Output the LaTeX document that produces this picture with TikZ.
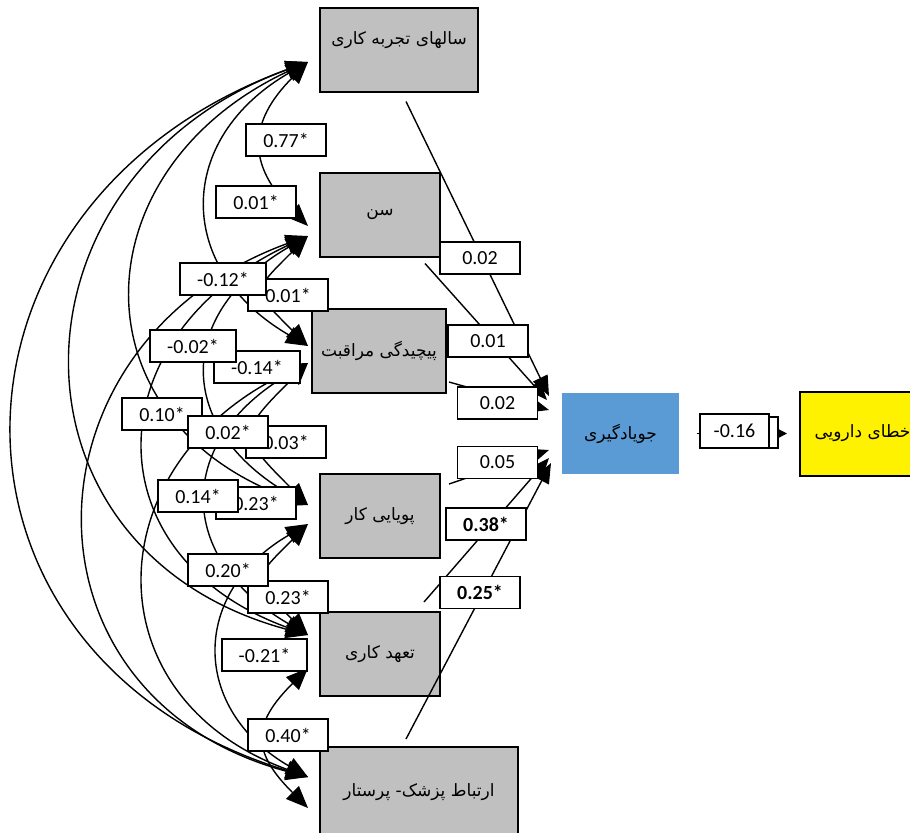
\documentclass[tikz,border=0pt]{standalone}
\usepackage{fontspec}
\setmainfont{Carlito}
\newfontfamily\fafont[Script=Arabic]{DejaVu Sans}
\TeXXeTstate=1
\usetikzlibrary{arrows.meta}
\definecolor{boxgray}{HTML}{C0C0C0}
\definecolor{learnblue}{HTML}{5B9BD5}
\tikzstyle{varbox} = [rectangle, minimum width=60pt, minimum height=42pt, draw=black, line width=1pt, fill=boxgray, font=\fafont\fontsize{8.5}{10}\selectfont]
\tikzstyle{coefbox} = [rectangle, minimum width=40pt, minimum height=16pt, inner sep=1pt, draw=black, line width=0.9pt, fill=white, font=\fontsize{10}{12}\selectfont]
\tikzstyle{covline} = [line width=0.7pt, {Triangle[length=11pt,width=9pt]}-{Triangle[length=11pt,width=9pt]}]
\tikzstyle{arrow} = [line width=0.7pt, -{Triangle[length=10pt,width=8pt]}]

\begin{document}
\begin{tikzpicture}[x=0.5pt, y=0.5pt, node distance=82.5pt]
\useasboundingbox (0,0) rectangle (910,-832);
\node (yrs) [varbox, minimum width=79pt, text height=7pt, text depth=12.5pt] at (399,-49.5) {\beginR سالهای تجربه کاری\endR};
\node (age) [varbox, below of=yrs, xshift=-9.5pt] {\beginR سن\endR};
\node (cmp) [varbox, minimum width=67pt, below of=age, xshift=-0.5pt, yshift=14.25pt] {\beginR پیچیدگی مراقبت\endR};
\node (dyn) [varbox, below of=cmp, xshift=0.5pt] {\beginR پویایی کار\endR};
\node (com) [varbox, below of=dyn, yshift=13.5pt] {\beginR تعهد کاری\endR};
\node (rel) [varbox, minimum width=99pt, minimum height=45pt, below of=com, xshift=19.5pt, yshift=13.5pt] {\beginR ارتباط پزشک- پرستار\endR};
\node (jv) [varbox, fill=learnblue, draw=learnblue, minimum width=57.5pt, minimum height=39.5pt] at (620.5,-433.5) {\beginR جویادگیری\endR};
\node (err) [varbox, fill=yellow, minimum width=62.5pt, right of=jv, xshift=38.5pt] {\beginR خطای دارویی\endR};

% ports on the left of the boxes
\coordinate (p1) at (308,-62);
\coordinate (p2u) at (308,-226);
\coordinate (p2d) at (308,-236);
\coordinate (p3u) at (308,-346);
\coordinate (p3d) at (308,-363);
\coordinate (p4u) at (308,-505);
\coordinate (p4d) at (308,-524);
\coordinate (p5u) at (308,-635);
\coordinate (p5d) at (308,-668);
\coordinate (p6u) at (308,-777);
\coordinate (p6d) at (308,-808);

% correlations
\draw [covline] (p1) to[out=225, in=135, distance=43pt] (p2u);
\draw [covline] (p1) to[out=210, in=150, distance=77pt] (p3u);
\draw [covline] (p1) to[out=205, in=160, distance=126pt] (p4u);
\draw [covline] (p1) to[out=200, in=165, distance=164pt] (p5u);
\draw [covline] (p1) to[out=200, in=163, distance=206pt] (p6u);
\draw [covline] (p2d) to[out=225, in=135, distance=40pt] (p3u);
\draw [covline] (p2d) to[out=210, in=150, distance=77pt] (p4u);
\draw [covline] (p2d) to[out=205, in=160, distance=117pt] (p5u);
\draw [covline] (p2d) to[out=200, in=165, distance=155pt] (p6u);
\draw [covline] (p3d) to[out=225, in=135, distance=50pt] (p4u);
\draw [covline] (p3d) to[out=210, in=150, distance=77pt] (p5u);
\draw [covline] (p3d) to[out=205, in=160, distance=117pt] (p6u);
\draw [covline] (p4d) to[out=225, in=135, distance=40pt] (p5u);
\draw [covline] (p4d) to[out=210, in=150, distance=68pt] (p6u);
\draw [covline] (p5d) to[out=225, in=135, distance=40pt] (p6d);

% paths to jv
\draw [arrow] ([xshift=3.5pt,yshift=-4.5pt]yrs.south) -- ([xshift=-6.5pt,yshift=18.75pt]jv.west);
\draw [arrow] ([xshift=-8pt,yshift=-3pt]age.south east) -- ([xshift=-7.5pt,yshift=16.75pt]jv.west);
\draw [arrow] ([xshift=1pt,yshift=6pt]cmp.south east) -- ([xshift=-6.5pt,yshift=11.75pt]jv.west);
\draw [arrow] ([xshift=4pt,yshift=-5.5pt]dyn.north east) -- ([xshift=-6.5pt,yshift=-8.25pt]jv.west);
\draw [arrow] ([xshift=-8.5pt,yshift=4.5pt]com.north east) -- ([xshift=-6.5pt,yshift=-12.25pt]jv.west);
\draw [arrow] ([xshift=-6.5pt,yshift=3.5pt]rel.north) -- ([xshift=-5.5pt,yshift=-14.75pt]jv.west);
\draw [line width=0.7pt, -{Triangle[length=4.5pt,width=4.5pt]}, shorten <=9pt, shorten >=6pt] (jv.east) -- (err.west);

% coefficients
\node (c23) [coefbox] at (288,-295) {0.01*};
\node (c24) [coefbox, minimum width=43pt] at (257,-367) {-0.14*};
\node (c34) [coefbox] at (286,-442) {0.03*};
\node (c35) [coefbox] at (256,-503) {0.23*};
\node (c45) [coefbox] at (288,-597) {0.23*};
\node (c12) [coefbox] at (286,-140) {0.77*};
\node (c13) [coefbox] at (256,-202) {0.01*};
\node (c14) [coefbox, minimum width=43pt] at (223,-279) {-0.12*};
\node (c15) [coefbox, minimum width=43pt] at (193,-346) {-0.02*};
\node (c16) [coefbox] at (162,-414) {0.10*};
\node (c25) [coefbox] at (228,-432) {0.02*};
\node (c26) [coefbox] at (198,-496) {0.14*};
\node (c36) [coefbox] at (228,-570) {0.20*};
\node (c46) [coefbox, minimum width=42.5pt] at (264.5,-655) {-0.21*};
\node (c56) [coefbox] at (288,-735) {0.40*};

\node (b1) [coefbox] at (480,-258) {0.02};
\node (b2) [coefbox] at (488,-341) {0.01};
\node (b3) [coefbox] at (497.5,-403) {0.02};
\node (b4) [coefbox] at (497.5,-462.5) {0.05};
\node (b5) [coefbox] at (486,-524) {\textbf{0.38*}};
\node (b6) [coefbox] at (480,-592.5) {\textbf{0.25*}};
\node (bk) [coefbox, minimum width=39pt, minimum height=15.5pt] at (739,-432.5) {};
\node (b7) [coefbox, minimum width=34.5pt, minimum height=17pt] at (734.5,-431) {-0.16};
\end{tikzpicture}
\end{document}
